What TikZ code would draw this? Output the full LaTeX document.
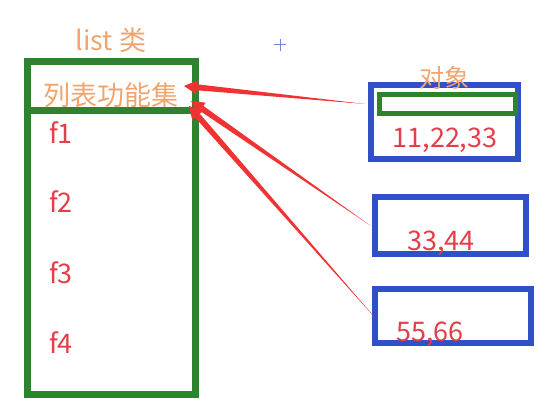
\documentclass[tikz,border=0pt]{standalone}
\usepackage{fontspec}
\setmainfont{Noto Sans CJK SC}
\usepackage{xcolor}
\usetikzlibrary{calc}
\definecolor{clsgreen}{RGB}{46,132,46}
\definecolor{objblue}{RGB}{48,80,200}
\definecolor{txtorange}{RGB}{240,165,110}
\definecolor{txtred}{RGB}{228,62,72}
\definecolor{arrowred}{RGB}{240,50,50}
\tikzset{classbox/.style = {draw = clsgreen, line width = 7pt, inner sep = 0,
                            minimum width = 168pt, minimum height = 332pt}}
\tikzset{objbox/.style = {draw = objblue, line width = 6pt, inner sep = 0}}
\tikzset{lbl/.style = {inner sep = 0, font = \fontsize{27}{29}\selectfont}}
\tikzset{func/.style = {lbl, text = txtred}}

\begin{document}
\begin{tikzpicture}[x = 1pt, y = -1pt]
      \useasboundingbox (0, 0) rectangle (554, 411);

      \node [classbox] (cls) at (111, 228) {};
      \coordinate (divider) at (0, 111);
      \draw [clsgreen, line width = 7pt] (cls.west |- divider) -- (cls.east |- divider);

      \node [lbl, text = txtorange] (title) at (111, 40) {list 类};
      \node [lbl, text = txtorange] (funcset) at (111, 95) {列表功能集};
      \node [func] (f1) at (61, 133) {f1};
      \node [func] (f2) at (61, 202) {f2};
      \node [func] (f3) at (61, 273) {f3};
      \node [func] (f4) at (61, 343) {f4};

      \node [objbox, minimum width = 147pt, minimum height = 74pt] (obj1) at (444.5, 122) {};
      \node [draw = clsgreen, line width = 5pt, inner sep = 0,
             minimum width = 136pt, minimum height = 19pt] (ref1) at (447.5, 104) {};
      \node [objbox, minimum width = 151pt, minimum height = 57pt] (obj2) at (450.5, 225.5) {};
      \node [objbox, minimum width = 156pt, minimum height = 54pt] (obj3) at (453, 316) {};

      \node [lbl, text = txtorange, font = \fontsize{25}{27}\selectfont] (objlbl) at (444, 78) {对象};
      \node [lbl, text = txtred] (v1) at (445, 140) {11,22,33};
      \node [lbl, text = txtred] (v2) at (441, 243) {33,44};
      \node [lbl, text = txtred] (v3) at (430, 334) {55,66};

      \coordinate (t1) at (365, 104);
      \coordinate (h1) at (184, 86);
      \coordinate (t2) at (371, 226);
      \coordinate (h2) at (191, 101);
      \coordinate (t3) at (377, 320);
      \coordinate (h3) at (189, 106);

      % tapered red arrows
      \foreach \t/\h in {t1/h1, t2/h2, t3/h3} {
        \coordinate (b) at ($(\h)!13pt!(\t)$);
        \fill [arrowred] (\t) -- ($(b)!3pt!90:(\t)$) -- ($(b)!3pt!-90:(\t)$) -- cycle;
        \fill [arrowred] (\h) -- ($(b)!7pt!90:(\t)$) -- ($(b)!7pt!-90:(\t)$) -- cycle;
      }

      \draw [objblue!70, line width = 1pt] (274, 45) -- (286, 45) (280, 39) -- (280, 51);
    \end{tikzpicture}
\end{document}
